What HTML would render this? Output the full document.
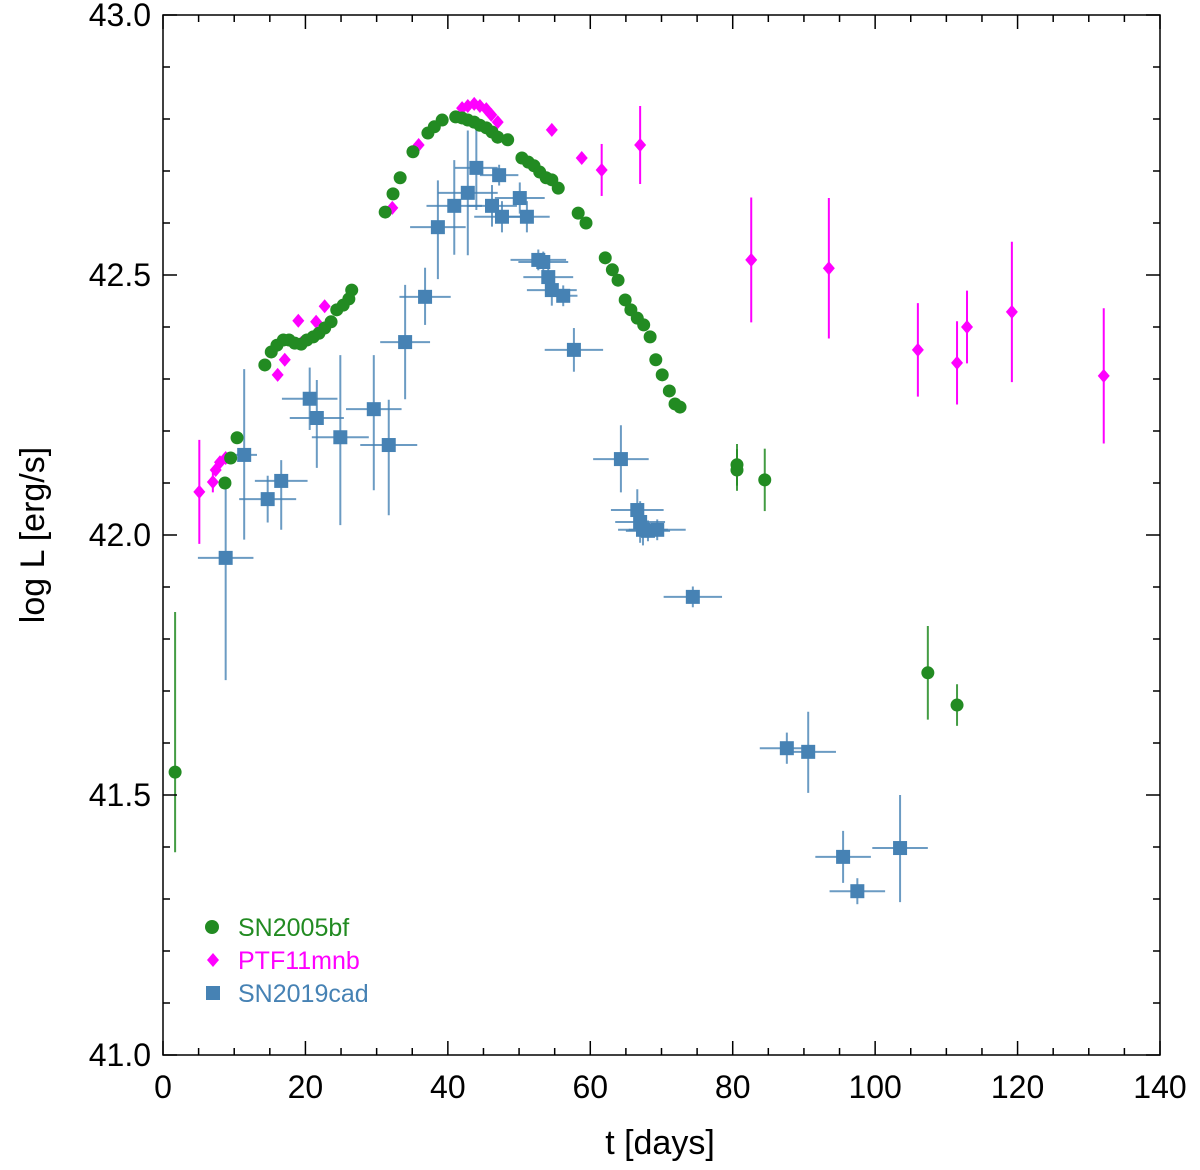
<!DOCTYPE html>
<html><head><meta charset="utf-8"><style>
body{margin:0;background:#fff}
svg{display:block;font-family:"Liberation Sans",Arial,sans-serif}
</style></head><body>
<svg id="chart" width="1200" height="1170" viewBox="0 0 1200 1170">
<rect x="0" y="0" width="1200" height="1170" fill="#fff"/>
<g id="plot"></g>
</svg>
<script>
const sn05T=[1.7,8.7,9.5,10.4,14.3,15.2,16.0,16.9,17.7,18.5,19.4,20.2,21.1,21.9,22.7,23.6,24.4,25.3,26.1,26.5,31.2,32.3,33.3,35.1,37.2,38.1,39.2,41.1,42.0,42.8,43.7,44.5,45.4,46.2,47.0,48.4,50.4,51.3,52.1,52.9,53.8,54.6,55.5,58.3,59.4,62.1,63.1,63.9,64.9,65.7,66.6,67.5,68.4,69.2,70.1,71.1,71.9,72.6,80.6,80.6,84.5,107.4,111.5];
const sn05L=[41.544,42.10,42.148,42.187,42.327,42.352,42.365,42.375,42.375,42.369,42.367,42.375,42.381,42.388,42.398,42.410,42.433,42.442,42.454,42.471,42.621,42.656,42.687,42.737,42.773,42.785,42.798,42.804,42.802,42.798,42.794,42.788,42.783,42.775,42.765,42.760,42.725,42.717,42.710,42.698,42.687,42.683,42.667,42.619,42.600,42.533,42.510,42.490,42.452,42.433,42.417,42.404,42.381,42.337,42.308,42.277,42.252,42.246,42.135,42.125,42.106,41.735,41.673];
const sn05ErrLo=[0.154,0,0,0,0,0,0,0,0,0,0,0,0,0,0,0,0,0,0,0,0,0,0,0,0,0,0,0,0,0,0,0,0,0,0,0,0,0,0,0,0,0,0,0,0,0,0,0,0,0,0,0,0,0,0,0,0,0,0.04,0.04,0.06,0.09,0.04];
const sn05ErrHi=[0.308,0,0,0,0,0,0,0,0,0,0,0,0,0,0,0,0,0,0,0,0,0,0,0,0,0,0,0,0,0,0,0,0,0,0,0,0,0,0,0,0,0,0,0,0,0,0,0,0,0,0,0,0,0,0,0,0,0,0.04,0.04,0.06,0.09,0.04];
const ptfT=[5.1,7.0,7.4,8.0,8.8,16.1,17.1,19.0,19.4,21.5,22.7,32.2,35.9,42.0,42.8,43.7,44.5,45.4,46.1,47.0,54.6,58.8,61.6,67.0,82.6,93.5,106.0,111.5,112.9,119.2,132.1];
const ptfL=[42.083,42.102,42.125,42.140,42.148,42.308,42.337,42.412,42.369,42.410,42.440,42.629,42.750,42.821,42.825,42.829,42.825,42.819,42.808,42.794,42.779,42.725,42.702,42.750,42.529,42.513,42.356,42.331,42.400,42.429,42.306];
const ptfErr=[0.10,0.02,0,0,0,0.01,0.01,0,0,0,0,0,0,0,0,0,0,0,0,0,0,0,0.05,0.075,0.12,0.135,0.09,0.08,0.07,0.135,0.13];
const cadT=[8.8,11.4,14.7,16.6,20.6,21.6,24.9,29.6,31.7,34.0,36.8,38.6,40.9,42.8,44.0,46.2,47.2,47.6,50.1,51.1,52.7,53.4,54.1,54.6,56.2,57.7,64.3,66.6,67.0,67.4,68.1,69.4,74.4,87.6,90.6,95.5,97.5,103.5];
const cadL=[41.956,42.154,42.069,42.104,42.262,42.225,42.188,42.242,42.173,42.371,42.458,42.592,42.633,42.658,42.706,42.633,42.692,42.612,42.648,42.612,42.529,42.525,42.496,42.471,42.460,42.356,42.146,42.048,42.025,42.010,42.008,42.010,41.881,41.590,41.583,41.381,41.315,41.398];
const cadXErr=[3.9,1.8,4.0,3.7,3.9,3.8,4.0,3.9,4.0,3.5,3.6,3.9,3.9,4.2,3.0,3.5,2.7,3.9,3.5,3.2,3.9,3.5,3.5,3.5,2.0,4.1,3.9,3.7,3.5,3.5,3.1,4.0,4.1,3.8,3.9,3.9,3.9,3.9];
const cadErrLo=[0.235,0.163,0.045,0.094,0.06,0.096,0.169,0.156,0.135,0.11,0.054,0.10,0.094,0.12,0.081,0.04,0.02,0.03,0.03,0.03,0.02,0.02,0.03,0.03,0.02,0.042,0.064,0.04,0.04,0.03,0.02,0.02,0.02,0.03,0.079,0.05,0.025,0.104];
const cadErrHi=[0.140,0.165,0.045,0.04,0.06,0.073,0.158,0.104,0.087,0.11,0.056,0.09,0.088,0.12,0.073,0.04,0.02,0.03,0.03,0.03,0.02,0.02,0.03,0.03,0.02,0.042,0.065,0.04,0.04,0.03,0.02,0.02,0.02,0.03,0.077,0.05,0.025,0.102];
const xTickLabels=["0","20","40","60","80","100","120","140"];
const yTickLabels=["41.0","41.5","42.0","42.5","43.0"];

const L=163,R=1160,T=15,B=1055;
const xMin=0,xMax=140,yMin=41,yMax=43;
const X=v=>L+(v-xMin)/(xMax-xMin)*(R-L);
const Y=v=>B-(v-yMin)/(yMax-yMin)*(B-T);
const NS="http://www.w3.org/2000/svg";
const g=document.getElementById('plot');
function mk(tag,attrs,parent){const e=document.createElementNS(NS,tag);for(const k in attrs)e.setAttribute(k,attrs[k]);(parent||g).appendChild(e);return e;}

const GREEN="#228b22",MAG="#ff00ff",BLUE="#4682b4";
const gc=mk('g',{});


for(let i=0;i<cadT.length;i++){
  const x=X(cadT[i]),y=Y(cadL[i]);
  const eh=mk('line',{x1:X(cadT[i]-cadXErr[i]),x2:X(cadT[i]+cadXErr[i]),y1:y,y2:y,stroke:BLUE,'stroke-width':2,'stroke-opacity':0.8},gc);
  
  
  const ev=mk('line',{x1:x,x2:x,y1:Y(cadL[i]-cadErrLo[i]),y2:Y(cadL[i]+cadErrHi[i]),stroke:BLUE,'stroke-width':2,'stroke-opacity':0.8},gc);
  
  
}
for(let i=0;i<cadT.length;i++){
  const x=X(cadT[i]),y=Y(cadL[i]);
  const r=mk('rect',{x:x-7,y:y-7,width:14,height:14,fill:BLUE},gc);
  
  
}
const gp=mk('g',{});


for(let i=0;i<ptfT.length;i++){
  const x=X(ptfT[i]),y=Y(ptfL[i]);
  if(ptfErr[i]>0){
    const ev=mk('line',{x1:x,x2:x,y1:Y(ptfL[i]-ptfErr[i]),y2:Y(ptfL[i]+ptfErr[i]),stroke:MAG,'stroke-width':2},gp);
    
    
  }
  const d=mk('polygon',{points:`${x},${y-7} ${x+6},${y} ${x},${y+7} ${x-6},${y}`,fill:MAG},gp);
  
  
}
const gs=mk('g',{});


for(let i=0;i<sn05T.length;i++){
  const x=X(sn05T[i]),y=Y(sn05L[i]);
  if(sn05ErrLo[i]>0||sn05ErrHi[i]>0){
    const ev=mk('line',{x1:x,x2:x,y1:Y(sn05L[i]-sn05ErrLo[i]),y2:Y(sn05L[i]+sn05ErrHi[i]),stroke:GREEN,'stroke-width':2,'stroke-opacity':0.85},gs);
    
    
  }
  const c=mk('circle',{cx:x,cy:y,r:6.5,fill:GREEN},gs);
  
  
}
const fr=mk('rect',{x:L,y:T,width:R-L,height:B-T,fill:'none',stroke:'#000','stroke-width':1.5});


const tk=mk('g',{stroke:'#000','stroke-width':1.5});


for(let v=0;v<=140;v+=5){
  const len=v%20===0?14:7,x=X(v);
  mk('line',{x1:x,x2:x,y1:B,y2:B-len},tk);
  mk('line',{x1:x,x2:x,y1:T,y2:T+len},tk);
}
for(let k=0;k<=20;k++){
  const v=41+k*0.1,len=k%5===0?14:7,y=Y(v);
  mk('line',{x1:L,x2:L+len,y1:y,y2:y},tk);
  mk('line',{x1:R,x2:R-len,y1:y,y2:y},tk);
}
xTickLabels.forEach((s,i)=>{
  const t=mk('text',{x:X(+s),y:1098,'font-size':32,'text-anchor':'middle'});
  t.textContent=s;
  
  
});
yTickLabels.forEach((s,i)=>{
  const t=mk('text',{x:151,y:Y(+s)+11,'font-size':32,'text-anchor':'end'});
  t.textContent=s;
  
  
});
const xt=mk('text',{x:660,y:1154,'font-size':34,'text-anchor':'middle'});
xt.textContent='t [days]';


const yt=mk('text',{x:0,y:0,'font-size':34,'text-anchor':'middle',transform:'translate(44,535) rotate(-90)'});
yt.textContent='log L [erg/s]';


const lg=mk('g',{});


const e1=mk('g',{},lg);


mk('circle',{cx:212,cy:927,r:7,fill:GREEN},e1);
const t1=mk('text',{x:238,y:936,'font-size':25,fill:GREEN},e1);t1.textContent='SN2005bf';
const e2=mk('g',{},lg);


mk('polygon',{points:'213,953 219,960 213,967 207,960',fill:MAG},e2);
const t2=mk('text',{x:238,y:969,'font-size':25,fill:MAG},e2);t2.textContent='PTF11mnb';
const e3=mk('g',{},lg);


mk('rect',{x:206,y:986,width:14,height:14,fill:BLUE},e3);
const t3=mk('text',{x:238,y:1002,'font-size':25,fill:BLUE},e3);t3.textContent='SN2019cad';
</script>
</body></html>
